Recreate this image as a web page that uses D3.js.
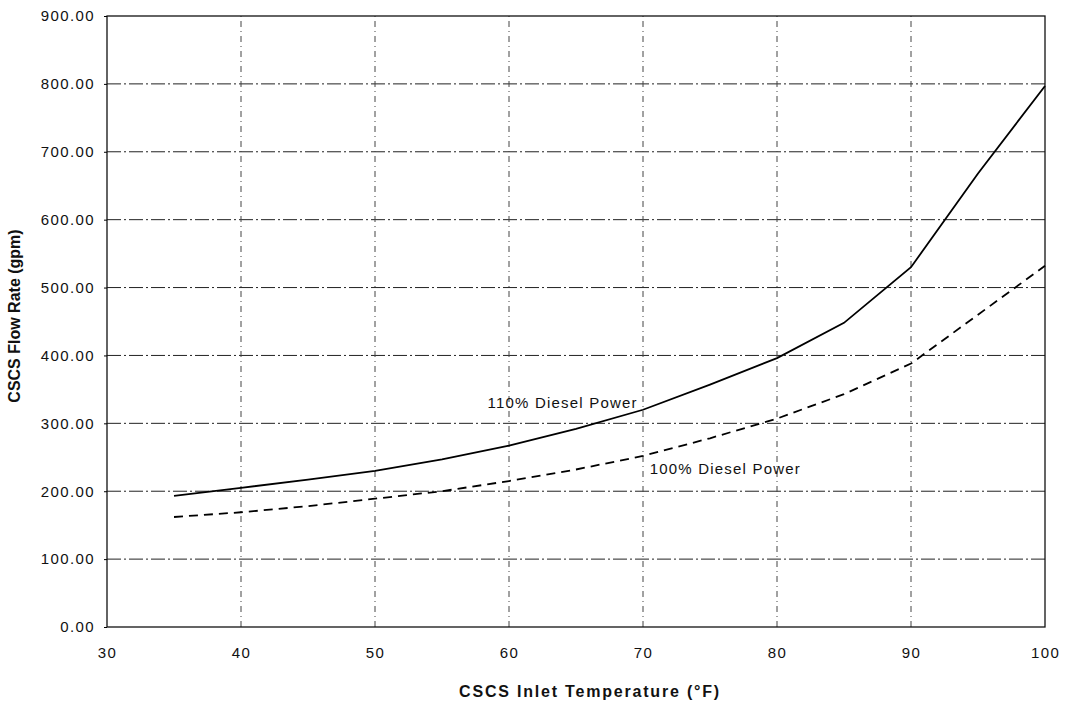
<!DOCTYPE html>
<html>
<head>
<meta charset="utf-8">
<script src="https://cdn.jsdelivr.net/npm/d3@7"></script>
<style>
  html, body { margin: 0; padding: 0; background: #fff; }
  svg { display: block; }
  .tick-label { font-family: Arial, "Liberation Sans", sans-serif; font-size: 15px; fill: #111; letter-spacing: 1.4px; }
  .axis-title { font-family: Arial, "Liberation Sans", sans-serif; font-size: 16px; font-weight: bold; fill: #111; }
  .note { font-family: Arial, "Liberation Sans", sans-serif; font-size: 15px; fill: #111; letter-spacing: 1.2px; }
</style>
</head>
<body>
<svg id="chart" width="1066" height="701"></svg>
<script>
// Inlet temperature (°F) sample points
const temps = [35, 40, 45, 50, 55, 60, 65, 70, 75, 80, 85, 90, 95, 100];
// Required flow at 110% diesel power (gpm)
const flow110 = [193, 205, 217, 230, 247, 267, 292, 320, 357, 396, 448, 530, 668, 797];
// Required flow at 100% diesel power (gpm)
const flow100 = [162, 169, 178, 189, 200, 215, 232, 252, 278, 307, 343, 388, 460, 532];

const xTicks = [30, 40, 50, 60, 70, 80, 90, 100];
const yTicks = [0, 100, 200, 300, 400, 500, 600, 700, 800, 900];

const xTitle = "CSCS Inlet Temperature (°F)";
const yTitle = "CSCS Flow Rate (gpm)";
const label110 = "110% Diesel Power";
const label100 = "100% Diesel Power";

const margin = { left: 107, right: 21, top: 16, bottom: 74 };
const W = 1066, H = 701;
const svg = d3.select("#chart");

const x = d3.scaleLinear().domain([30, 100]).range([margin.left, W - margin.right]);
const y = d3.scaleLinear().domain([0, 900]).range([H - margin.bottom, margin.top]);

// gridlines: dash-dot horizontals, lighter dotted verticals
const grid = svg.append("g");
grid.selectAll("line.h").data(yTicks.slice(1, -1)).join("line")
  .attr("x1", x(30)).attr("x2", x(100))
  .attr("y1", d => y(d)).attr("y2", d => y(d))
  .attr("stroke", "#222").attr("stroke-width", 1)
  .attr("stroke-dasharray", "14,3,2,3");
grid.selectAll("line.v").data(xTicks.slice(1, -1)).join("line")
  .attr("x1", d => x(d)).attr("x2", d => x(d))
  .attr("y1", y(0)).attr("y2", y(900))
  .attr("stroke", "#444").attr("stroke-width", 1)
  .attr("stroke-dasharray", "6,4,1,4");

// plot frame
svg.append("rect")
  .attr("x", x(30)).attr("y", y(900))
  .attr("width", x(100) - x(30)).attr("height", y(0) - y(900))
  .attr("fill", "none").attr("stroke", "#111").attr("stroke-width", 1.3);

// axes
const yAxis = d3.axisLeft(y).tickValues(yTicks).tickSize(3).tickPadding(9)
  .tickFormat(d3.format(".2f"));
const gy = svg.append("g").attr("transform", `translate(${x(30)},0)`).call(yAxis);
gy.select(".domain").remove();
gy.selectAll("text").attr("class", "tick-label").attr("fill", null);

const xAxis = d3.axisBottom(x).tickValues(xTicks).tickSize(0).tickPadding(20);
const gx = svg.append("g").attr("transform", `translate(0,${y(0)})`).call(xAxis);
gx.select(".domain").remove();
gx.selectAll("text").attr("class", "tick-label").attr("fill", null);

// curves
const line = d3.line().x(d => x(d[0])).y(d => y(d[1]));
svg.append("path")
  .datum(temps.map((t, i) => [t, flow110[i]]))
  .attr("d", line).attr("fill", "none")
  .attr("stroke", "#000").attr("stroke-width", 1.8);
svg.append("path")
  .datum(temps.map((t, i) => [t, flow100[i]]))
  .attr("d", line).attr("fill", "none")
  .attr("stroke", "#000").attr("stroke-width", 1.8)
  .attr("stroke-dasharray", "9,6");

// curve labels
svg.append("text").attr("class", "note")
  .attr("x", x(58.4)).attr("y", y(322)).text(label110);
svg.append("text").attr("class", "note")
  .attr("x", x(70.5)).attr("y", y(225)).text(label100);

// axis titles
svg.append("text").attr("class", "axis-title")
  .attr("x", 590).attr("y", 697)
  .attr("text-anchor", "middle").attr("letter-spacing", "1.8px")
  .text(xTitle);
svg.append("text").attr("class", "axis-title")
  .attr("transform", `translate(20,316) rotate(-90)`)
  .attr("text-anchor", "middle")
  .text(yTitle);
</script>
</body>
</html>
